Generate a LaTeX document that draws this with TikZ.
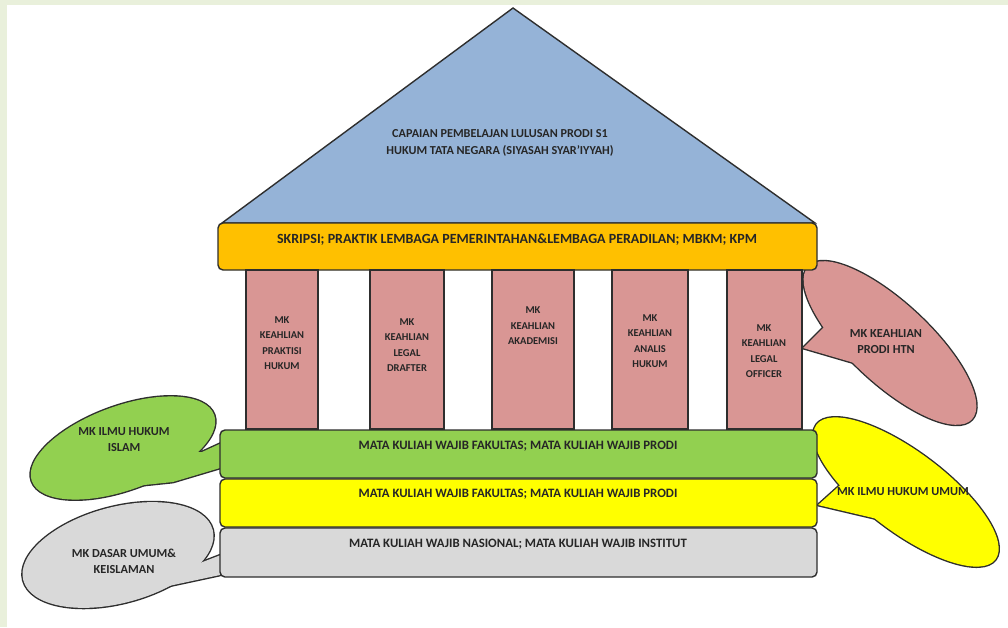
\documentclass[tikz,border=0pt]{standalone}
\usepackage{fontspec}
\setmainfont{Carlito}
\definecolor{bgg}{HTML}{E9F0DB}
\definecolor{roofc}{HTML}{95B3D7}
\definecolor{orangec}{HTML}{FFC000}
\definecolor{pinkc}{HTML}{D99694}
\definecolor{greenc}{HTML}{92D050}
\definecolor{yellowc}{HTML}{FFFF00}
\definecolor{grayc}{HTML}{D9D9D9}
\definecolor{edgec}{HTML}{2E2E2E}
\definecolor{txtc}{HTML}{262626}
\tikzset{
  shapeline/.style={draw=edgec, line width=1.4pt},
  bar/.style={shapeline, rounded corners=5pt},
  pillar/.style={shapeline, fill=pinkc},
  cout/.style={draw=edgec, line width=2.8pt, line join=round},
  tbase/.style={text=txtc, inner sep=0pt, align=center},
  troof/.style={tbase, font=\bfseries\fontsize{12.2}{17}\selectfont},
  tbar/.style={tbase, font=\bfseries\fontsize{12.8}{14}\selectfont},
  tskr/.style={tbase, font=\bfseries\fontsize{14}{15}\selectfont},
  tpil/.style={tbase, font=\bfseries\fontsize{10.5}{15.5}\selectfont},
  tcal/.style={tbase, font=\bfseries\fontsize{12.3}{16}\selectfont},
}
\newcommand\mycallout[6]{%
  \begin{scope}[shift={#2},rotate=#3]\filldraw[cout,fill=#1] (0,0) ellipse[x radius=#4, y radius=#5];\end{scope}
  \filldraw[cout,fill=#1] #6 -- cycle;
  \begin{scope}[shift={#2},rotate=#3]\fill[#1] (0,0) ellipse[x radius=#4, y radius=#5];\end{scope}
  \fill[#1] #6 -- cycle;
}
\begin{document}
\begin{tikzpicture}[x=1pt,y=-1pt]
\fill[bgg] (0,0) rectangle (1008,627);
\fill[white] (7,5) rectangle (1008,627);
\useasboundingbox (0,0) rectangle (1008,627);

% callouts (behind the building)
\mycallout{pinkc}{(890,343)}{-43}{112pt}{40pt}{(835,316) -- (803,348) -- (868,367)}
\mycallout{yellowc}{(906,492)}{-37}{112pt}{40pt}{(847,479) -- (818,505) -- (886,521)}
\mycallout{greenc}{(123,448)}{20}{97pt}{42pt}{(185,452) -- (202,452) -- (226,441) -- (220,468) -- (173,482) -- (125,487)}
\mycallout{grayc}{(118,555)}{15}{98pt}{48pt}{(180,562) -- (200,563) -- (226,553) -- (220,575) -- (150,590)}

% roof
\filldraw[shapeline, fill=roofc, line join=miter] (222,223) -- (513,8) -- (815,223) -- cycle;
\node[troof] (roof) at (500,143) {CAPAIAN PEMBELAJAN LULUSAN PRODI S1\\HUKUM TATA NEGARA (SIYASAH SYAR'IYYAH)};

% top beam
\draw[bar, fill=orangec] (218,223) rectangle (817,270);
\node[tskr] (skripsi) at (517,240) {SKRIPSI; PRAKTIK LEMBAGA PEMERINTAHAN\&LEMBAGA PERADILAN; MBKM; KPM};

% pillars
\draw[pillar] (246,270) rectangle (318,429);
\draw[pillar] (370,270) rectangle (444,429);
\draw[pillar] (492,270) rectangle (574,429);
\draw[pillar] (612,270) rectangle (688,429);
\draw[pillar] (727,270) rectangle (802,429);
\node[tpil] (p1) at (282,343) {MK\\KEAHLIAN\\PRAKTISI\\HUKUM};
\node[tpil] (p2) at (407,345) {MK\\KEAHLIAN\\LEGAL\\DRAFTER};
\node[tpil] (p3) at (533,326) {MK\\KEAHLIAN\\AKADEMISI};
\node[tpil] (p4) at (650,341) {MK\\KEAHLIAN\\ANALIS\\HUKUM};
\node[tpil] (p5) at (764,351) {MK\\KEAHLIAN\\LEGAL\\OFFICER};

% foundation bars
\draw[bar, fill=greenc] (220,430) rectangle (817,478);
\draw[bar, fill=yellowc] (220,479) rectangle (817,527);
\draw[bar, fill=grayc] (220,528) rectangle (817,577);
\node[tbar] (wf1) at (518,446) {MATA KULIAH WAJIB FAKULTAS; MATA KULIAH WAJIB PRODI};
\node[tbar] (wf2) at (518,494) {MATA KULIAH WAJIB FAKULTAS; MATA KULIAH WAJIB PRODI};
\node[tbar] (wn) at (518,544) {MATA KULIAH WAJIB NASIONAL; MATA KULIAH WAJIB INSTITUT};

% callout texts
\node[tcal] (htn) at (886,342) {MK KEAHLIAN\\PRODI HTN};
\node[tcal] (umum) at (903,492) {MK ILMU HUKUM UMUM};
\node[tcal] (islam) at (124,440) {MK ILMU HUKUM\\ISLAM};
\node[tcal] (dasar) at (124,561) {MK DASAR UMUM\&\\KEISLAMAN};
\end{tikzpicture}
\end{document}
